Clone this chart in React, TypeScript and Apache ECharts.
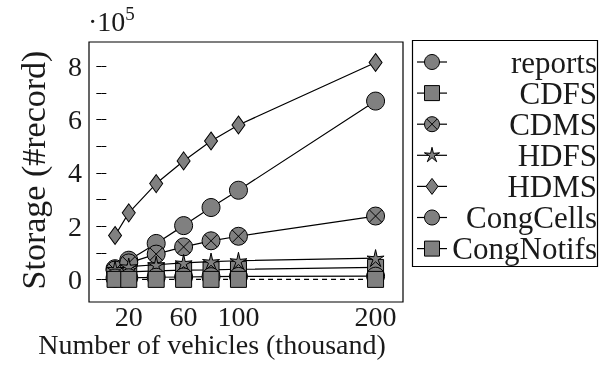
import React, { useEffect, useRef } from "react";
import * as echarts from "echarts";

const vehicles = [10, 20, 40, 60, 80, 100, 200];
const reports = [40000, 72000, 135000, 202000, 270000, 335000, 670000];
const cdfs = [22000, 28000, 32000, 35000, 36000, 38000, 45000];
const cdms = [35000, 62000, 95000, 122000, 145000, 162000, 238000];
const hdfs = [38000, 48000, 55000, 62000, 67000, 70000, 80000];
const hdms = [165000, 250000, 360000, 445000, 520000, 580000, 815000];
const congCells = [5000, 6000, 8000, 9000, 10000, 11000, 12000];
const congNotifs = [0, 0, 0, 0, 0, 0, 0];
const seriesNames = ["reports", "CDFS", "CDMS", "HDFS", "HDMS", "CongCells", "CongNotifs"];
const xTicks = [20, 60, 100, 200];
const yLabelTicks = [0, 200000, 400000, 600000, 800000];
const yMinorTicks = [0, 100000, 200000, 300000, 400000, 500000, 600000, 700000, 800000];

const FONT = "Liberation Serif";
const GRAY = "#808080";
const TXT = "#1a1a1a";

const circleX = "path://M0,-10A10,10 0 1,1 0,10A10,10 0 1,1 0,-10ZM-7.07,-7.07L7.07,7.07M7.07,-7.07L-7.07,7.07";
function starPts(cx: number, cy: number, R: number, r: number) {
  const pts: number[][] = [];
  for (let i = 0; i < 10; i++) {
    const a = -Math.PI / 2 + (i * Math.PI) / 5;
    const rr = i % 2 === 0 ? R : r;
    pts.push([cx + rr * Math.cos(a), cy + rr * Math.sin(a)]);
  }
  return pts;
}
const starPath =
  "path://" +
  starPts(0, 0, 10, 3.0)
    .map((p, i) => (i === 0 ? "M" : "L") + p[0].toFixed(2) + "," + p[1].toFixed(2))
    .join("") +
  "Z";

type Kind = "circle" | "square" | "circlex" | "star" | "diamond";
const kinds: Kind[] = ["circle", "square", "circlex", "star", "diamond", "circle", "square"];
const dataSets = [reports, cdfs, cdms, hdfs, hdms, congCells, congNotifs];
const dashed = [false, false, false, false, false, false, true];

function symbolFor(k: Kind): [string, number | number[]] {
  switch (k) {
    case "circle":
      return ["circle", 18];
    case "square":
      return ["rect", 16];
    case "circlex":
      return [circleX, 18];
    case "star":
      return [starPath, 17];
    case "diamond":
      return ["diamond", [13, 18]];
  }
}

function legendMarker(k: Kind, cx: number, cy: number): any[] {
  const st = { fill: GRAY, stroke: "#000", lineWidth: 1 };
  switch (k) {
    case "circle":
      return [{ type: "circle", shape: { cx, cy, r: 7.5 }, style: st }];
    case "square":
      return [{ type: "rect", shape: { x: cx - 7.5, y: cy - 7.5, width: 15, height: 15 }, style: st }];
    case "circlex":
      return [
        { type: "circle", shape: { cx, cy, r: 7.5 }, style: st },
        { type: "line", shape: { x1: cx - 5.3, y1: cy - 5.3, x2: cx + 5.3, y2: cy + 5.3 }, style: { stroke: "#000", lineWidth: 1 } },
        { type: "line", shape: { x1: cx + 5.3, y1: cy - 5.3, x2: cx - 5.3, y2: cy + 5.3 }, style: { stroke: "#000", lineWidth: 1 } },
      ];
    case "star":
      return [{ type: "polygon", shape: { points: starPts(cx, cy, 8, 2.4) }, style: st }];
    case "diamond":
      return [{ type: "polygon", shape: { points: [[cx, cy - 8], [cx + 6, cy], [cx, cy + 8], [cx - 6, cy]] }, style: st }];
  }
}

export default function App() {
  const ref = useRef<HTMLDivElement>(null);
  useEffect(() => {
    if (!ref.current) return;
    const chart = echarts.init(ref.current, undefined, { renderer: "svg" });

    const legendRowY0 = 62;
    const legendStep = 31.1;
    const legendEls: any[] = [
      {
        type: "rect",
        shape: { x: 412.5, y: 40.5, width: 185, height: 226 },
        style: { fill: "#fff", stroke: "#000", lineWidth: 1.2 },
        z: 100,
      },
    ];
    seriesNames.forEach((name, i) => {
      const y = legendRowY0 + i * legendStep;
      legendEls.push({
        type: "line",
        shape: { x1: 417, y1: y, x2: 447, y2: y },
        style: { stroke: "#000", lineWidth: 1.2 },
        z: 101,
      });
      legendMarker(kinds[i], 432, y).forEach((e) => legendEls.push({ ...e, z: 102 }));
      legendEls.push({
        type: "text",
        x: 597,
        y: y,
        style: {
          text: name,
          font: `31px "${FONT}"`,
          lineHeight: 26,
          fill: TXT,
          align: "right",
          verticalAlign: "middle",
        },
        z: 102,
      });
    });

    const series = seriesNames.map((name, i) => {
      const [sym, size] = symbolFor(kinds[i]);
      return {
        name,
        type: "line",
        data: vehicles.map((v, j) => [v, dataSets[i][j]]),
        symbol: sym,
        symbolSize: size,
        showAllSymbol: true,
        lineStyle: { color: "#000", width: 1.2, type: dashed[i] ? [5, 4] : "solid" },
        itemStyle: { color: GRAY, borderColor: "#000", borderWidth: 1 },
        z: 2 + i,
      };
    });

    chart.setOption({
      animation: false,
      grid: {
        left: 89,
        right: 197,
        top: 42,
        bottom: 63,
        show: true,
        borderColor: "#000",
        borderWidth: 1.2,
        backgroundColor: "transparent",
      },
      xAxis: [
        {
          type: "value",
          min: -9,
          max: 220,
          position: "bottom",
          axisLine: { show: false },
          splitLine: { show: false },
          axisTick: { inside: true, length: 5, lineStyle: { color: "#000" }, customValues: xTicks },
          axisLabel: { customValues: xTicks, fontFamily: FONT, fontSize: 28, color: TXT, margin: 0 },
        },
        {
          type: "value",
          min: -9,
          max: 220,
          position: "top",
          axisLine: { show: false },
          splitLine: { show: false },
          axisTick: { inside: true, length: 5, lineStyle: { color: "#000" }, customValues: xTicks },
          axisLabel: { show: false, customValues: xTicks },
        },
      ],
      yAxis: [
        {
          type: "value",
          min: -85000,
          max: 892000,
          position: "left",
          axisLine: { show: false },
          splitLine: { show: false },
          axisTick: { inside: true, length: 5, lineStyle: { color: "#000" }, customValues: yMinorTicks },
          axisLabel: {
            customValues: yLabelTicks,
            formatter: (v: number) => String(Math.round(v / 100000)),
            fontFamily: FONT,
            fontSize: 28,
            color: TXT,
            margin: 7,
          },
        },
        {
          type: "value",
          min: -85000,
          max: 892000,
          position: "right",
          axisLine: { show: false },
          splitLine: { show: false },
          axisTick: { inside: true, length: 5, lineStyle: { color: "#000" }, customValues: yMinorTicks },
          axisLabel: { show: false, customValues: yLabelTicks },
        },
      ],
      series,
      graphic: [
        {
          type: "text",
          x: 212,
          y: 344,
          style: {
            text: "Number of vehicles (thousand)",
            font: `28px "${FONT}"`,
            fill: TXT,
            align: "center",
            verticalAlign: "middle",
          },
        },
        {
          type: "text",
          x: 33,
          y: 170,
          rotation: Math.PI / 2,
          style: {
            text: "Storage (#record)",
            font: `34px "${FONT}"`,
            fill: TXT,
            align: "center",
            verticalAlign: "middle",
          },
        },
        {
          type: "text",
          x: 88,
          y: 38,
          style: {
            text: "{a|·10}{b|5}",
            fill: TXT,
            verticalAlign: "bottom",
            rich: {
              a: { fontFamily: FONT, fontSize: 28, fill: TXT },
              b: { fontFamily: FONT, fontSize: 19, fill: TXT, verticalAlign: "top", padding: [0, 0, 15, 0] },
            },
          },
        },
        ...legendEls,
      ],
    });
    return () => chart.dispose();
  }, []);
  return <div ref={ref} style={{ position: "fixed", left: 0, top: 0, width: 600, height: 365 }} />;
}
